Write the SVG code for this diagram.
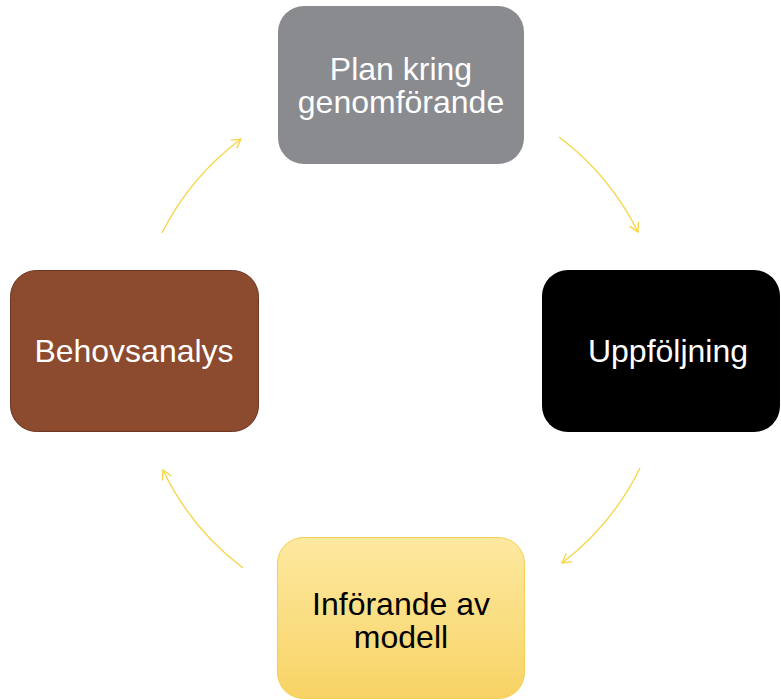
<svg xmlns="http://www.w3.org/2000/svg" width="781" height="700" viewBox="0 0 781 700">
<defs>
<linearGradient id="yg" x1="0" y1="0" x2="0" y2="1">
<stop offset="0" stop-color="#fde9a0"/>
<stop offset="1" stop-color="#f8d365"/>
</linearGradient>
<marker id="ah" viewBox="0 0 12 12" refX="10" refY="6" markerWidth="12" markerHeight="12" markerUnits="userSpaceOnUse" orient="auto">
<polyline points="1,1 10,6 1,11" fill="none" stroke="#f6d443" stroke-width="1.3"/>
</marker>
</defs>
<style>
.t{font-family:"Liberation Sans",Arial,sans-serif;font-size:32px;text-anchor:middle}
.c{fill:none;stroke:#f6d443;stroke-width:1.3;marker-end:url(#ah)}
</style>
<rect width="781" height="700" fill="#ffffff"/>
<g id="connectors">
<path class="c" d="M559,137 A267,267 0 0 1 638,232"/>
<path class="c" d="M640,468 A267,267 0 0 1 562,563"/>
<path class="c" d="M243,568 A267,267 0 0 1 163,470"/>
<path class="c" d="M162,233 A267,267 0 0 1 241,139"/>
</g>
<g id="plan">
<rect x="278" y="6" width="246" height="158" rx="26" fill="#8a8b8f"/>
<text class="t" x="401" y="80" fill="#ffffff">Plan kring</text>
<text class="t" x="401" y="113" fill="#ffffff">genomförande</text>
</g>
<g id="uppfoljning">
<rect x="542" y="270" width="238" height="162" rx="26" fill="#000000"/>
<text class="t" x="668" y="362" fill="#ffffff">Uppföljning</text>
</g>
<g id="inforande">
<rect x="277.5" y="537.5" width="247" height="161" rx="26" fill="url(#yg)" stroke="#f5d050" stroke-width="1"/>
<text class="t" x="401" y="615" fill="#000000">Införande av</text>
<text class="t" x="401" y="648" fill="#000000">modell</text>
</g>
<g id="behovsanalys">
<rect x="10.5" y="270.5" width="248" height="161" rx="26" fill="#8c4a2f" stroke="#6e3620" stroke-width="1"/>
<text class="t" x="134" y="362" fill="#ffffff">Behovsanalys</text>
</g>
</svg>
